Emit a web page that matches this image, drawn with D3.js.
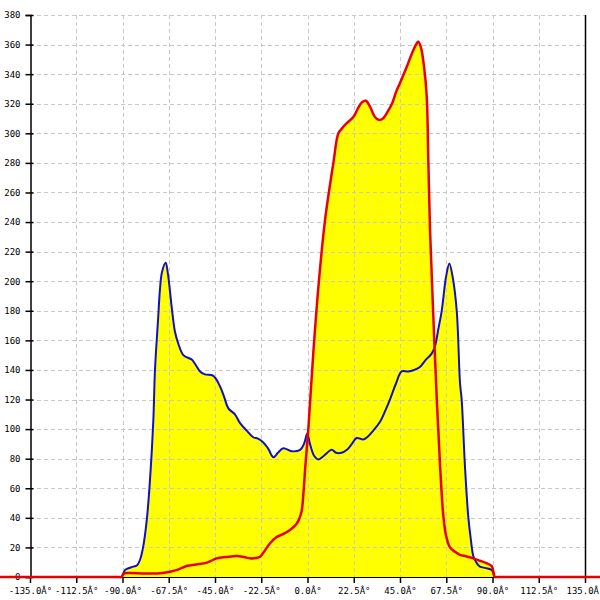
<!DOCTYPE html>
<html>
<head>
<meta charset="utf-8">
<script src="https://cdn.jsdelivr.net/npm/d3@7"></script>
<style>
html,body{margin:0;padding:0;background:#fff;}
svg{display:block;}
</style>
</head>
<body>
<svg id="chart" width="600" height="600"></svg>
<script>
// ---- data ----
const xTickValues = [-135, -112.5, -90, -67.5, -45, -22.5, 0, 22.5, 45, 67.5, 90, 112.5, 135];
const xTickLabels = ["-135.0Â°", "-112.5Â°", "-90.0Â°", "-67.5Â°", "-45.0Â°", "-22.5Â°", "0.0Â°", "22.5Â°", "45.0Â°", "67.5Â°", "90.0Â°", "112.5Â°", "135.0Â°"];
const yTickValues = [0, 20, 40, 60, 80, 100, 120, 140, 160, 180, 200, 220, 240, 260, 280, 300, 320, 340, 360, 380];

const blueAngles = [-90, -88.8, -87.8, -84.7, -82.9, -81.5, -80.0, -78.2, -76.6, -75.0, -74.2, -72.7, -71.8, -70.8, -69.0, -67.9, -66.1, -64.5, -62.9, -60.4, -56.3, -54.2, -52.3, -49.9, -45.8, -42.6, -40.6, -38.5, -35.3, -32.8, -29.6, -26.4, -24.1, -21.5, -19.2, -16.6, -14.4, -11.8, -7.7, -3.6, -1.7, -0.1, 1.2, 3.2, 5.3, 8.0, 11.8, 13.9, 16.6, 19.2, 21.6, 23.9, 27.1, 29.4, 32.0, 35.3, 37.7, 40.1, 43.1, 45.8, 49.0, 51.8, 54.7, 57.6, 60.4, 62.0, 63.7, 65.3, 67.4, 69.0, 70.6, 72.6, 74.2, 75.0, 76.6, 78.2, 79.5, 80.7, 82.5, 83.9, 86.8, 89.6, 90.4, 90.9];
const blueValues = [1, 4.7, 5.5, 7, 8, 11.5, 20, 38.5, 66, 106, 140, 174, 194, 206, 212.5, 205, 183, 166, 158, 150, 147, 143, 139, 137, 136, 129, 122, 114, 110, 104, 99, 94.5, 93.5, 91, 87, 81, 84, 87, 85, 86, 90, 97, 90, 82, 79.5, 82, 86, 84, 84, 86, 90, 94, 93, 95, 99, 105, 112, 120, 131, 139, 139, 140, 142, 147, 151, 156, 168, 180, 203, 212, 203, 180, 131, 120, 75, 41, 25, 14, 9, 7, 6, 4.7, 2.5, 0];

const redAngles = [-150, -130, -110, -95, -92, -90.6, -89.2, -86.3, -79, -71.8, -66.9, -63, -58.8, -54.2, -49, -44.2, -39.6, -34.4, -30.9, -28, -25.1, -23.1, -20.7, -18.2, -15, -11.9, -8.5, -5.3, -4.1, -2.8, -1.9, -1.2, 0.4, 2.8, 5.3, 8.5, 12.6, 15.0, 16.6, 19.2, 22.3, 24.6, 26.5, 28.5, 30.4, 32.8, 34.8, 36.7, 38.7, 41.1, 43.1, 45, 48.3, 50.8, 52.8, 53.9, 55.2, 56.7, 58, 58.8, 59.6, 61.1, 62.9, 64.5, 66.1, 67.4, 69.3, 71.8, 74.2, 77.1, 80.7, 83.9, 86.8, 89.6, 90.5, 91.2, 92.5, 96, 110, 130, 150];
const redValues = [0, 0, 0, 0, 0, 0, 2.5, 2.7, 2.4, 2.5, 3.6, 5, 7.4, 8.5, 9.7, 12.6, 13.5, 14.2, 13.5, 12.6, 12.8, 13.7, 18, 22.8, 27, 29, 31.8, 36, 39, 45, 58, 72, 100, 151, 196, 241, 280, 300, 303, 307, 311, 317, 321, 322, 318, 311, 309, 310, 314, 320, 328, 334, 345, 354, 360, 362, 358, 345, 325, 280, 235, 180, 120, 75, 41, 28, 20, 17, 15, 14, 12.6, 11, 9.5, 7.4, 3, 0, 0, 0, 0, 0, 0];

// ---- layout ----
const svg = d3.select("#chart");
const x = d3.scaleLinear().domain([-135, 135]).range([30, 585]);
const y = d3.scaleLinear().domain([0, 380]).range([577, 15]);

const blue = blueAngles.map((a, i) => [a, blueValues[i]]);
const red = redAngles.map((a, i) => [a, redValues[i]]);

const curve = d3.curveCatmullRom.alpha(0.5);
const area = d3.area().x(d => x(d[0])).y0(y(0)).y1(d => y(d[1])).curve(curve);
const line = d3.line().x(d => x(d[0])).y(d => y(d[1])).curve(curve);

// fills
svg.append("path").attr("d", area(blue)).attr("fill", "#ffff00");
svg.append("path").attr("d", area(red)).attr("fill", "#ffff00");

// grid
const grid = svg.append("g").attr("stroke", "#c8c8c8").attr("stroke-dasharray", "4,3").attr("stroke-width", 1);
yTickValues.filter(v => v > 0).forEach(v => {
  grid.append("line").attr("x1", x(-135)).attr("x2", x(135))
    .attr("y1", Math.round(y(v)) + 0.5).attr("y2", Math.round(y(v)) + 0.5);
});
xTickValues.filter(v => v > -135 && v < 135).forEach(v => {
  grid.append("line").attr("y1", y(380)).attr("y2", y(0))
    .attr("x1", Math.round(x(v)) + 0.5).attr("x2", Math.round(x(v)) + 0.5);
});

// left axis
const yAxis = d3.axisLeft(y).tickValues(yTickValues).tickSize(5).tickPadding(5).tickFormat(d3.format("d"));
const gy = svg.append("g").attr("transform", "translate(" + (x(-135) + 0.5) + ",0)").call(yAxis);
gy.select(".domain").attr("stroke", "#000").attr("stroke-width", 1.5);
gy.selectAll(".tick line").attr("stroke", "#000").attr("x2", -5).attr("x1", 3).attr("stroke-width", 1.5);
gy.selectAll("text").attr("font-family", "'DejaVu Sans Mono', monospace").attr("font-size", 9).attr("fill", "#000");

// right line
svg.append("line").attr("x1", x(135) + 0.5).attr("x2", x(135) + 0.5).attr("y1", y(380)).attr("y2", y(0))
  .attr("stroke", "#000").attr("stroke-width", 1.5);

// bottom axis
const xAxis = d3.axisBottom(x).tickValues(xTickValues).tickSize(6).tickPadding(5)
  .tickFormat((d, i) => xTickLabels[i]);
const gx = svg.append("g").attr("transform", "translate(0," + y(0) + ")").call(xAxis);
gx.select(".domain").attr("stroke", "#000");
gx.selectAll(".tick line").attr("stroke", "#000").attr("stroke-width", 1.5);
gx.selectAll("text").attr("font-family", "'DejaVu Sans Mono', monospace").attr("font-size", 9).attr("fill", "#000");

// lines
svg.append("path").attr("d", line(blue)).attr("fill", "none").attr("stroke", "#1010c8").attr("stroke-width", 2);
svg.append("path").attr("d", line(red)).attr("fill", "none").attr("stroke", "#e80000").attr("stroke-width", 2.5);
</script>
</body>
</html>
